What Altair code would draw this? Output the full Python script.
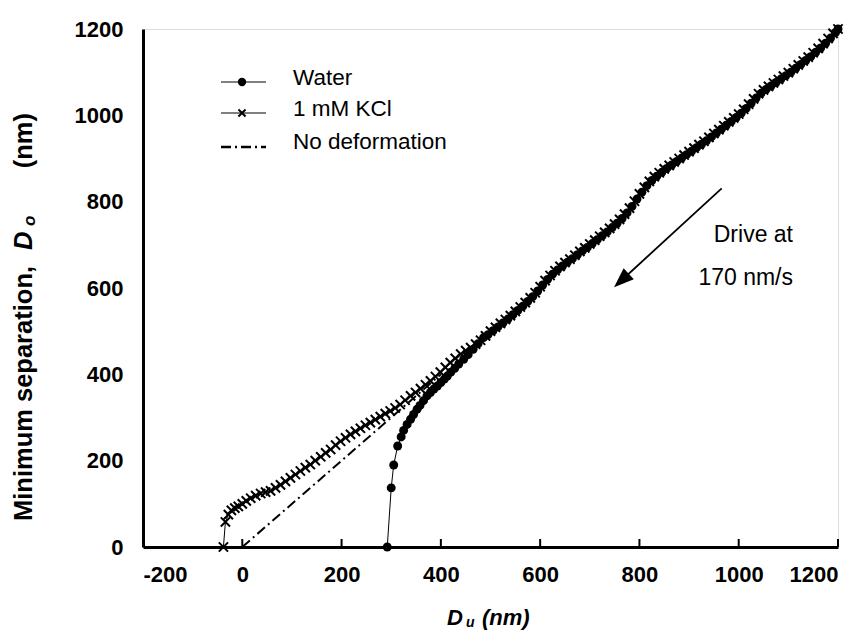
import altair as alt
import pandas as pd

FONT = "Liberation Sans"

# ---------------- data ----------------
water_x = [292, 300, 305, 313, 320, 325, 332, 339, 345, 352, 358, 365, 372, 379, 386, 393, 400, 407,
           413, 420, 428, 436, 446, 455, 465, 475, 486,
           495, 505, 515, 525, 535, 545, 555, 565, 575, 585, 595, 605, 615, 625, 635, 645, 655, 665,
           675, 685, 695, 705, 715, 725, 735, 745, 755, 765, 775, 785, 795, 805, 815, 825, 835, 845,
           855, 865, 875, 885, 895, 905, 915, 925, 935, 945, 955, 965, 975, 985, 995, 1005, 1015,
           1025, 1035, 1045, 1055, 1065, 1075, 1085, 1095, 1105, 1115, 1125, 1135, 1145, 1155, 1165,
           1175, 1185, 1195, 1200]
water_y = [0, 137, 190, 234, 255, 270, 284, 296, 307, 319, 328, 339, 350, 358, 366, 373, 381, 389,
           396, 405, 414, 424, 435, 446, 458, 471, 485,
           492, 501, 510, 519, 528, 538, 548, 558, 569, 580, 593, 607, 620, 632, 642, 651, 660, 668,
           677, 686, 694, 703, 712, 721, 730, 740, 750, 761, 774, 789, 806, 822, 837, 849, 859, 868,
           877, 885, 893, 901, 909, 917, 925, 933, 941, 950, 959, 968, 977, 986, 995, 1005, 1016,
           1028, 1040, 1051, 1060, 1068, 1076, 1084, 1092, 1100, 1109, 1118, 1127, 1136, 1146, 1156,
           1167, 1179, 1192, 1200]

kcl_x = [-38, -34, -28, -22, -15, -8, 0, 8, 17, 27, 37, 47, 57, 67, 77, 87, 97, 107, 117, 127, 137,
         147, 158, 168, 178, 188, 198, 208, 218, 228, 238, 248, 258, 268, 278, 288, 298, 308, 318,
         328, 339, 349, 359, 369, 379, 389, 399, 409, 419, 429, 440, 450, 460, 470, 480, 490,
         500, 510, 520, 530, 540, 550, 560, 570, 580, 590, 600, 610, 620, 630, 640, 650, 660, 670,
         680, 690, 700, 710, 720, 730, 740, 750, 760, 770, 780, 790, 800, 810, 820, 830, 840, 850,
         860, 870, 880, 890, 900, 910, 920, 930, 940, 950, 960, 970, 980, 990, 1000, 1010, 1020,
         1030, 1040, 1050, 1060, 1070, 1080, 1090, 1100, 1110, 1120, 1130, 1140, 1150, 1160, 1170,
         1180, 1190, 1200]
kcl_y = [0, 58, 75, 85, 90, 94, 100, 107, 113, 119, 124, 127, 130, 137, 144, 152, 160, 168, 176, 184,
         191, 200, 209, 218, 226, 236, 245, 253, 261, 268, 275, 282, 288, 295, 302, 309, 315, 322,
         330, 340, 350, 358, 367, 376, 385, 395, 405, 416, 427, 437, 447, 455, 462, 470, 479, 489,
         500, 509, 518, 527, 536, 546, 556, 566, 577, 589, 603, 617, 629, 640, 650, 659, 667, 676,
         685, 693, 702, 711, 720, 729, 738, 748, 759, 771, 785, 801, 818, 833, 847, 858, 867, 876,
         884, 892, 900, 908, 916, 924, 932, 940, 949, 958, 967, 976, 985, 994, 1003, 1014, 1026,
         1038, 1050, 1059, 1067, 1075, 1083, 1091, 1099, 1108, 1117, 1126, 1135, 1145, 1155, 1166,
         1178, 1190, 1200]

nodef_x = [0, 400]
nodef_y = [0, 400]

x_ticks = [-200, 0, 200, 400, 600, 800, 1000, 1200]
y_ticks = [0, 200, 400, 600, 800, 1000, 1200]

legend_labels = ["Water", "1 mM KCl", "No deformation"]
note_lines = ["Drive at", "170 nm/s"]

# ---------------- tables ----------------
water_df = pd.DataFrame({"x": water_x, "y": water_y})
kcl_df = pd.DataFrame({"x": kcl_x, "y": kcl_y})
nodef_df = pd.DataFrame({"x": nodef_x, "y": nodef_y})
tick_df = pd.DataFrame({"x": x_ticks})
one = pd.DataFrame({"a": [0]})

xs = alt.Scale(domain=[-200, 1200], nice=False, zero=False)
ys = alt.Scale(domain=[0, 1200], nice=False)

x_axis = alt.Axis(values=x_ticks, title=None, ticks=False, tickSize=0, grid=False,
                  labelFont=FONT, labelFontSize=22, labelFontWeight="bold", labelColor="black",
                  labelPadding=17, labelExpr="'' + datum.value",
                  domainColor="black", domainWidth=3)
y_axis = alt.Axis(values=y_ticks, title=None, ticks=False, tickSize=0, grid=False,
                  labelFont=FONT, labelFontSize=22, labelFontWeight="bold", labelColor="black",
                  labelPadding=20, labelExpr="'' + datum.value",
                  domainColor="black", domainWidth=3)

X = alt.X("x:Q", scale=xs, axis=x_axis)
Y = alt.Y("y:Q", scale=ys, axis=y_axis)

dash = [10, 4, 2, 4]
xshape = "M-1,-1L1,1M-1,1L1,-1"

nodef_line = alt.Chart(nodef_df).mark_line(color="black", strokeWidth=2, strokeDash=dash).encode(x=X, y=Y)
kcl_line = alt.Chart(kcl_df).mark_line(color="black", strokeWidth=1).encode(x=X, y=Y)
kcl_pts = alt.Chart(kcl_df).mark_point(shape=xshape, size=85, filled=False, color="black",
                                        strokeWidth=2, opacity=1).encode(x=X, y=Y)
water_line = alt.Chart(water_df).mark_line(color="black", strokeWidth=1).encode(x=X, y=Y)
water_pts = alt.Chart(water_df).mark_circle(size=80, color="black", opacity=1).encode(x=X, y=Y)

ticks = alt.Chart(tick_df).mark_rule(color="black", strokeWidth=2).encode(
    x=alt.X("x:Q", scale=xs), y=alt.value(518), y2=alt.value(510))

# ---------------- legend (drawn inside the plot) ----------------
def legend_row(yline, ytext, label):
    line = alt.Chart(one).mark_rule(color="black", strokeWidth=1).encode(
        x=alt.value(78), x2=alt.value(123), y=alt.value(yline))
    txt = alt.Chart(one).mark_text(align="left", baseline="middle", font=FONT, fontSize=22.5,
                                   color="black").encode(
        x=alt.value(150), y=alt.value(ytext), text=alt.value(label))
    return line, txt

l1, t1 = legend_row(53, 49, legend_labels[0])
l2, t2 = legend_row(84, 80, legend_labels[1])
l3 = alt.Chart(one).mark_rule(color="black", strokeWidth=2.5, strokeDash=dash).encode(
    x=alt.value(78), x2=alt.value(123), y=alt.value(118))
t3 = alt.Chart(one).mark_text(align="left", baseline="middle", font=FONT, fontSize=22.5,
                              color="black").encode(
    x=alt.value(150), y=alt.value(113), text=alt.value(legend_labels[2]))
m1 = alt.Chart(one).mark_circle(size=70, color="black", opacity=1).encode(
    x=alt.value(99), y=alt.value(53))
m2 = alt.Chart(one).mark_point(shape=xshape, size=50, filled=False, color="black",
                               strokeWidth=2, opacity=1).encode(x=alt.value(99), y=alt.value(84))

# ---------------- arrow + note ----------------
arrow_shaft = alt.Chart(one).mark_rule(color="black", strokeWidth=1.8).encode(
    x=alt.value(578.7), x2=alt.value(478.4), y=alt.value(159.3), y2=alt.value(251.5))
arrow_head = alt.Chart(one).mark_point(shape="M0,-1L-0.75,1L0.75,1Z", size=400, filled=True,
                                       color="black", opacity=1, angle=227).encode(
    x=alt.value(478.4), y=alt.value(251.5))
note1 = alt.Chart(one).mark_text(align="right", baseline="middle", font=FONT, fontSize=23,
                                 color="black").encode(
    x=alt.value(650), y=alt.value(206), text=alt.value(note_lines[0]))
note2 = alt.Chart(one).mark_text(align="right", baseline="middle", font=FONT, fontSize=23,
                                 color="black").encode(
    x=alt.value(650), y=alt.value(249), text=alt.value(note_lines[1]))

# ---------------- axis titles (with subscripts) ----------------
def txt(label, x, y, size, align="left", style="normal", angle=0, weight="bold"):
    kw = dict(align=align, baseline="middle", font=FONT, fontSize=size, fontWeight=weight,
              fontStyle=style, color="black")
    if angle:
        kw["angle"] = angle
    return alt.Chart(one).mark_text(**kw).encode(x=alt.value(x), y=alt.value(y), text=alt.value(label))

yt1 = txt("Minimum separation,", -119, 492, 25.5, angle=270)
yt2 = txt("D", -119, 221, 25.5, style="italic", angle=270)
yt3 = txt("o", -113, 197, 17, style="italic", angle=270)
yt4 = txt("(nm)", -119, 84, 25.5, align="right", angle=270)

xt1 = txt("D", 304, 589, 22, style="italic")
xt2 = txt("u", 323, 594, 14, style="italic")
xt3 = txt("(nm)", 339, 589, 22, style="italic")

chart = alt.layer(
    nodef_line, kcl_line, kcl_pts, water_line, water_pts, ticks,
    l1, t1, m1, l2, t2, m2, l3, t3,
    arrow_shaft, arrow_head, note1, note2,
    yt1, yt2, yt3, yt4, xt1, xt2, xt3,
).properties(
    width=695, height=518,
    autosize=alt.AutoSizeParams(type="none"),
    padding={"left": 135, "top": 21, "right": 20, "bottom": 84},
).configure_view(
    stroke="black", strokeWidth=2
).configure(background="white")

chart.save("out.html", embed_options={"renderer": "svg", "actions": False})
